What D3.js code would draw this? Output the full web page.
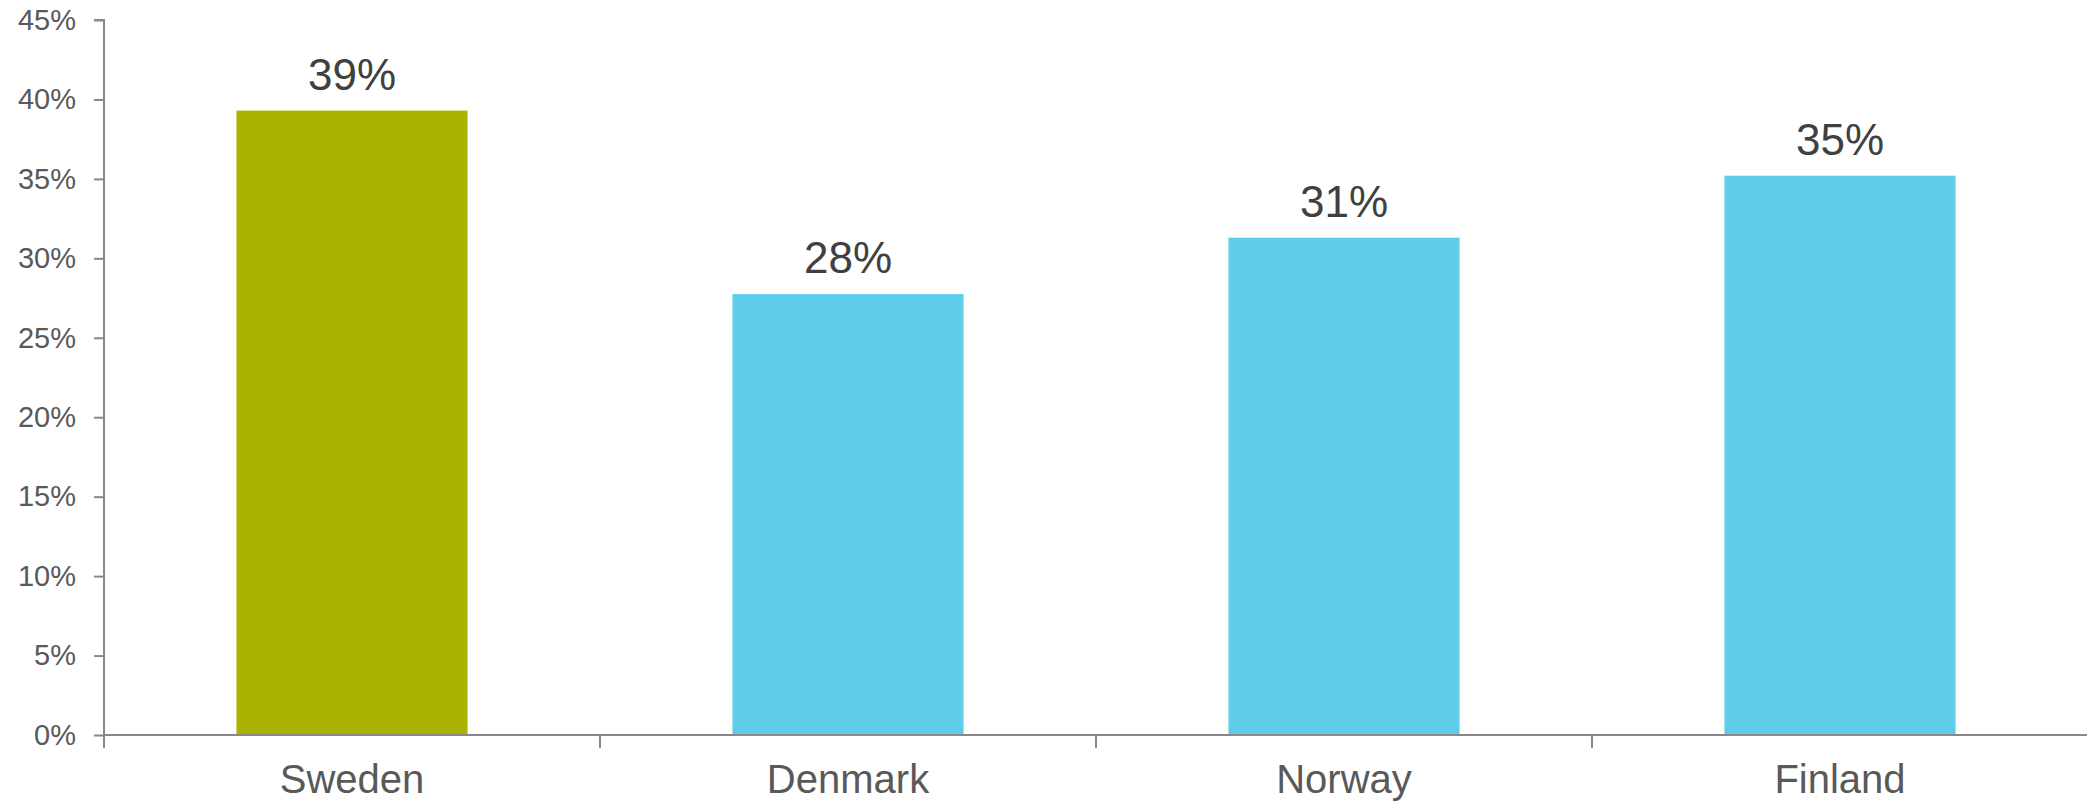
<!DOCTYPE html>
<html>
<head>
<meta charset="utf-8">
<script src="https://d3js.org/d3.v7.min.js"></script>
<style>
  body { margin: 0; background: #fff; }
  svg { display: block; font-family: "Liberation Sans", Arial, sans-serif; }
</style>
</head>
<body>
<svg width="2087" height="801"></svg>
<script>
// data
var countries = ['Sweden', 'Denmark', 'Norway', 'Finland'];
var shares = [39.3, 27.75, 31.3, 35.2];
var barColors = ['#aab400', '#5ecdea', '#5ecdea', '#5ecdea'];
var yTicks = [0, 5, 10, 15, 20, 25, 30, 35, 40, 45];

var svg = d3.select('svg');
var plotLeft = 104, plotRight = 2088, plotTop = 20, plotBottom = 735;

var x = d3.scaleBand()
    .domain(countries)
    .range([plotLeft, plotRight])
    .paddingInner(0.534)
    .paddingOuter(0.267);

var y = d3.scaleLinear()
    .domain([0, 45])
    .range([plotBottom, plotTop]);

// y axis
var yAxis = svg.append('g')
    .attr('transform', 'translate(' + plotLeft + ',0)')
    .call(d3.axisLeft(y).tickValues(yTicks).tickSize(10).tickPadding(18)
      .tickFormat(d => d + '%'));
yAxis.select('.domain').attr('stroke', '#898989').attr('stroke-width', 2)
    .attr('d', 'M-10,' + y(45) + 'H0V' + (plotBottom + 13));
yAxis.selectAll('.tick line').attr('stroke', '#898989').attr('stroke-width', 2);
yAxis.selectAll('.tick text')
    .attr('fill', '#595959').style('font-size', '29px');

// bars
svg.append('g').selectAll('rect')
  .data(countries)
  .enter()
  .append('rect')
    .attr('x', d => x(d))
    .attr('width', x.bandwidth())
    .attr('y', (d, i) => y(shares[i]))
    .attr('height', (d, i) => y(0) - y(shares[i]))
    .attr('fill', (d, i) => barColors[i]);

// x axis line and boundary ticks
svg.append('line')
    .attr('x1', plotLeft).attr('x2', plotRight)
    .attr('y1', plotBottom).attr('y2', plotBottom)
    .attr('stroke', '#898989').attr('stroke-width', 2);

var step = x.step();
svg.append('g').selectAll('line')
  .data(countries.slice(1))
  .enter()
  .append('line')
    .attr('x1', d => x(d) - step * x.paddingInner() / 2)
    .attr('x2', d => x(d) - step * x.paddingInner() / 2)
    .attr('y1', plotBottom).attr('y2', plotBottom + 13)
    .attr('stroke', '#898989').attr('stroke-width', 2);

// category labels
svg.append('g').selectAll('text')
  .data(countries)
  .enter()
  .append('text')
    .attr('x', d => x(d) + x.bandwidth() / 2)
    .attr('y', 793)
    .attr('text-anchor', 'middle')
    .attr('fill', '#595959')
    .style('font-size', '40px')
    .text(d => d);

// value labels
svg.append('g').selectAll('text')
  .data(countries)
  .enter()
  .append('text')
    .attr('x', d => x(d) + x.bandwidth() / 2)
    .attr('y', (d, i) => y(shares[i]) - 21)
    .attr('text-anchor', 'middle')
    .attr('fill', '#404040')
    .style('font-size', '44px')
    .text((d, i) => Math.round(shares[i]) + '%');
</script>
</body>
</html>
